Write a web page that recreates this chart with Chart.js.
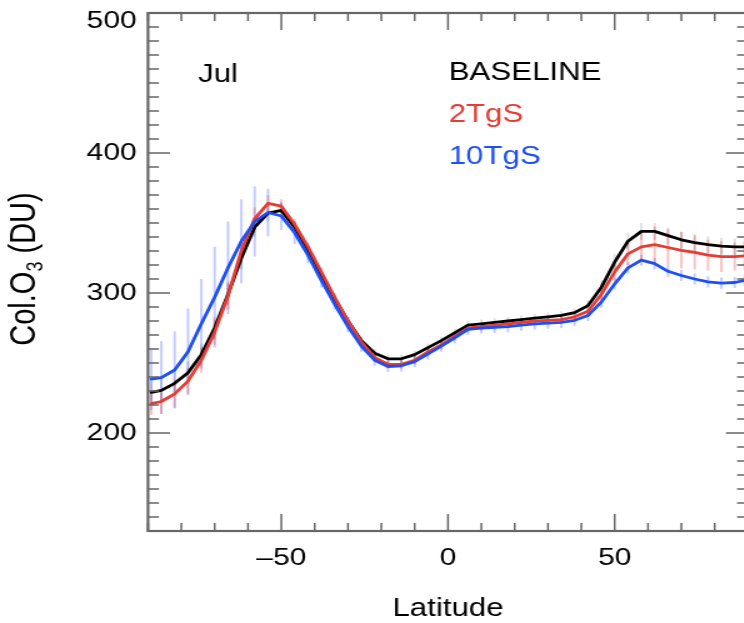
<!DOCTYPE html>
<html>
<head>
<meta charset="utf-8">
<title>Col.O3 Jul</title>
<script src="https://cdn.jsdelivr.net/npm/chart.js@4.4.1/dist/chart.umd.min.js"></script>
<style>
    html, body { margin: 0; padding: 0; background: #fff; overflow: hidden; }
    #wrap { width: 744px; height: 623px; overflow: hidden; position: relative; }
    /* the original figure is stretched sideways, so the whole canvas is too */
    #stretch { position: absolute; left: 0; top: 0; width: 600px; height: 623px; transform: scaleX(1.25); transform-origin: 0 0; }
</style>
</head>
<body>
<div id="wrap"><div id="stretch"><canvas id="ozoneChart" width="600" height="623"></canvas></div></div>
<script>
// ==========================================
// DATA (zonal mean column ozone, July)
// ==========================================
const lat = [-89, -86, -82, -78, -74, -70, -66, -62, -58, -54, -50, -46, -42, -38, -34, -30,
             -26, -22, -18, -14, -10, -6, -2, 2, 6, 10, 14, 18, 22, 26, 30, 34,
             38, 42, 46, 50, 54, 58, 62, 66, 70, 74, 78, 82, 86, 89];

const baseline = [229, 230.5, 235.5, 243, 256, 275, 299, 325, 347, 357, 359, 347, 331, 313, 296, 280,
                  266, 257, 253, 253, 256, 261, 266, 271.5, 277, 278, 279, 280, 281, 282, 283, 284,
                  286, 291, 304, 322, 337, 344, 344, 341, 338, 336, 334.5, 333.5, 333, 333];

const tg2 = [221, 222.5, 228, 237, 252, 272, 298, 330, 353, 364, 362, 349, 333, 315, 297, 280,
             265, 254, 249, 249, 252, 258, 263, 269, 275, 276, 277, 278, 279, 280, 280.5, 281,
             283, 287, 299, 315, 328, 333, 334.5, 332.5, 330.5, 329, 327, 326, 326, 326.5];

const tg10 = [238.5, 239.5, 245, 258, 278, 297, 318, 337, 351, 357.5, 355, 343, 327, 309, 292, 276,
              262, 252, 247.5, 248, 251, 256.5, 262, 268, 274, 275, 275.5, 276, 277, 278, 278.5, 279,
              280.5, 284, 293.5, 306.5, 318, 323.5, 321, 315.5, 312.5, 310, 308, 307, 307.5, 309];

// half length of the vertical bars
const errBaseline = [8, 8, 8, 8, 8, 8, 8, 8, 7, 6, 5, 4, 3, 3, 3, 3,
                     3, 3, 3, 3, 3, 3, 3, 3, 3, 3, 3, 3, 3, 3, 3, 3,
                     3, 4, 5, 6, 6, 6, 6, 6, 6, 6, 6, 6, 6, 6];
const errTg2 = [8, 9, 10, 9, 9, 9, 10, 9, 8, 6, 5, 4, 3, 3, 3, 3,
                3, 3, 3, 3, 3, 3, 3, 3, 3, 3, 3, 3, 3, 3, 3, 3,
                3, 3, 4, 6, 8, 10, 13, 13, 13, 12, 11, 11, 10, 10];
const errTg10 = [22, 26, 27.5, 31, 32, 36, 33, 30, 25, 17, 10, 8, 6, 5, 4, 4,
                 4, 4, 4, 4, 4, 4, 4, 4, 4, 4, 4, 4, 4, 4, 4, 4,
                 4, 4, 4, 4, 4, 4, 4, 4, 4, 4, 4, 4, 4, 4];

const yTickLabels = [200, 300, 400, 500];
const xTickLabels = [-50, 0, 50];

const seriesNames = ['BASELINE', '2TgS', '10TgS'];
const monthLabel = 'Jul';

// ==========================================
// STYLE
// ==========================================
const FONT = "'Liberation Sans', Arial, Helvetica, sans-serif";
const BLACK = '#000000';
const RED = '#e63c36';
const BLUE = '#1e4ff5';
const AXIS = '#666666';

Chart.defaults.font.family = FONT;
Chart.defaults.color = '#000';

const toPoints = (vals) => vals.map((v, i) => ({ x: lat[i], y: v }));
const minus = (v) => (v < 0 ? '\u2013' + Math.abs(v) : String(v));
// the frame is fixed by the layout padding, not by the tick labels
const noPadding = (s) => { s.paddingTop = 0; s.paddingBottom = 0; s.paddingLeft = 0; s.paddingRight = 0; };
const yMax = 500;

// ==========================================
// PLUGINS
// ==========================================
// vertical bars under the lines
const errorBars = {
    id: 'errorBars',
    beforeDatasetsDraw(chart) {
        const { ctx, chartArea: a, scales: { x, y } } = chart;
        ctx.save();
        ctx.beginPath();
        ctx.rect(a.left, a.top, a.right - a.left, a.bottom - a.top);
        ctx.clip();
        chart.data.datasets.forEach((ds) => {
            ctx.strokeStyle = ds.errColor;
            ctx.lineWidth = 2;
            ds.data.forEach((p, i) => {
                const px = x.getPixelForValue(p.x);
                ctx.beginPath();
                ctx.moveTo(px, y.getPixelForValue(p.y - ds.err[i]));
                ctx.lineTo(px, y.getPixelForValue(p.y + ds.err[i]));
                ctx.stroke();
            });
        });
        ctx.restore();
    }
};

// IDL-style box with ticks pointing inward on all four sides
const frameBox = {
    id: 'frameBox',
    afterDatasetsDraw(chart) {
        const { ctx, chartArea: a, scales: { x, y } } = chart;
        ctx.save();
        ctx.strokeStyle = AXIS;
        ctx.lineWidth = 1.5;
        ctx.beginPath();
        x.ticks.forEach((t) => {
            const px = x.getPixelForValue(t.value);
            const len = xTickLabels.includes(t.value) ? 17 : 8;
            ctx.moveTo(px, a.bottom); ctx.lineTo(px, a.bottom - len);
            ctx.moveTo(px, a.top); ctx.lineTo(px, a.top + len);
        });
        y.ticks.forEach((t) => {
            const py = y.getPixelForValue(t.value);
            const len = yTickLabels.includes(t.value) ? 17.6 : 8.8;
            ctx.moveTo(a.left, py); ctx.lineTo(a.left + len, py);
            ctx.moveTo(a.right, py); ctx.lineTo(a.right - len, py);
        });
        ctx.stroke();
        ctx.lineWidth = 2.2;
        ctx.strokeRect(a.left, a.top, a.right - a.left, a.bottom - a.top);
        ctx.restore();
    }
};

// y title with subscript, month label and coloured legend text
const annotations = {
    id: 'annotations',
    afterDraw(chart) {
        const { ctx, scales: { x, y } } = chart;
        ctx.save();

        // Col.O3 (DU)
        const big = '29px ' + FONT;
        const small = '18px ' + FONT;
        ctx.translate(20, 269);
        ctx.rotate(-Math.PI / 2);
        ctx.fillStyle = '#000';
        ctx.textBaseline = 'middle';
        ctx.font = big;
        const w1 = ctx.measureText('Col.O').width;
        const w3 = ctx.measureText(' (DU)').width;
        ctx.font = small;
        const w2 = ctx.measureText('3').width;
        let cx = -(w1 + w2 + w3) / 2;
        ctx.font = big;
        ctx.fillText('Col.O', cx, 0);
        cx += w1;
        ctx.font = small;
        ctx.fillText('3', cx, 9);
        cx += w2;
        ctx.font = big;
        ctx.fillText(' (DU)', cx, 0);
        ctx.setTransform(1, 0, 0, 1, 0, 0);

        // text placed in data coordinates
        ctx.textBaseline = 'alphabetic';
        ctx.textAlign = 'left';
        ctx.font = '25px ' + FONT;
        ctx.fillStyle = BLACK;
        ctx.fillText(monthLabel, x.getPixelForValue(-75), y.getPixelForValue(450.5));
        const colours = [BLACK, RED, BLUE];
        const rows = [452, 422, 392.5];
        seriesNames.forEach((name, i) => {
            ctx.fillStyle = colours[i];
            ctx.fillText(name, x.getPixelForValue(0.2), y.getPixelForValue(rows[i]));
        });
        ctx.restore();
    }
};

// ==========================================
// CHART
// ==========================================
const lineStyle = { pointRadius: 0, borderWidth: 2.8, tension: 0, fill: false,
                    borderJoinStyle: 'round', borderCapStyle: 'round' };

new Chart(document.getElementById('ozoneChart'), {
    type: 'line',
    data: {
        datasets: [
            { ...lineStyle, label: seriesNames[2], data: toPoints(tg10), borderColor: BLUE,
              err: errTg10, errColor: 'rgba(60,90,255,0.3)', order: 0 },
            { ...lineStyle, label: seriesNames[1], data: toPoints(tg2), borderColor: RED,
              err: errTg2, errColor: 'rgba(235,60,55,0.3)', order: 1 },
            { ...lineStyle, label: seriesNames[0], data: toPoints(baseline), borderColor: BLACK,
              err: errBaseline, errColor: 'rgba(0,0,0,0.12)', order: 2 }
        ]
    },
    options: {
        responsive: false,
        animation: false,
        layout: { autoPadding: false, padding: { top: 13, right: 1.6, left: 0, bottom: 0 } },
        plugins: { legend: { display: false }, tooltip: { enabled: false } },
        scales: {
            x: {
                type: 'linear',
                min: -90, max: 90,
                grid: { display: false, drawTicks: false },
                border: { display: false },
                ticks: {
                    stepSize: 10, autoSkip: false, maxRotation: 0,
                    padding: 15.5,
                    font: { size: 24, lineHeight: 1 },
                    callback: (v) => (xTickLabels.includes(v) ? minus(v) : '')
                },
                title: { display: true, text: 'Latitude', font: { size: 25, lineHeight: 1.1 }, padding: { top: 0, bottom: 0 } },
                afterFit: (s) => { s.height = 92; noPadding(s); }
            },
            y: {
                min: 130, max: yMax,
                grid: { display: false, drawTicks: false },
                border: { display: false },
                ticks: {
                    stepSize: 10, autoSkip: false,
                    padding: 9,
                    // the top label sits just below the frame, as in the original
                    font: (c) => ({ size: 24, lineHeight: c.tick && c.tick.value === yMax ? 0.71 : 1 }),
                    callback: (v) => (v === yMax ? ['', String(v)] : (yTickLabels.includes(v) ? String(v) : ''))
                },
                afterFit: (s) => { s.width = 118.4; noPadding(s); }
            }
        }
    },
    plugins: [errorBars, frameBox, annotations]
});
</script>
</body>
</html>
